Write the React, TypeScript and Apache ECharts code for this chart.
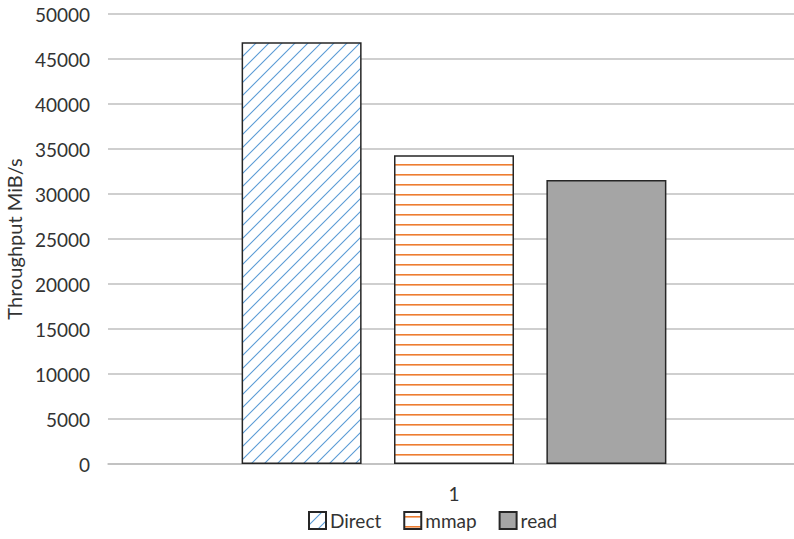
import React, { useEffect, useRef } from "react";
import * as echarts from "echarts";

const categories = ["1"];
const seriesNames = ["Direct", "mmap", "read"];
const directValues = [46850];
const mmapValues = [34300];
const readValues = [31550];
const yTicks = { min: 0, max: 50000, interval: 5000 };

function diagPattern() {
  const s = 13;
  const c = document.createElement("canvas");
  c.width = s;
  c.height = s;
  const g = c.getContext("2d")!;
  g.fillStyle = "#ffffff";
  g.fillRect(0, 0, s, s);
  g.strokeStyle = "#5b9bd5";
  g.lineWidth = 1.1;
  g.beginPath();
  g.moveTo(-2, s + 2);
  g.lineTo(s + 2, -2);
  g.moveTo(-2, 2);
  g.lineTo(2, -2);
  g.moveTo(s - 2, s + 2);
  g.lineTo(s + 2, s - 2);
  g.stroke();
  return { image: c, repeat: "repeat", imageWidth: s, imageHeight: s } as any;
}

function horizPattern() {
  const s = 10;
  const c = document.createElement("canvas");
  c.width = s;
  c.height = s;
  const g = c.getContext("2d")!;
  g.fillStyle = "#ffffff";
  g.fillRect(0, 0, s, s);
  g.fillStyle = "#ed7d31";
  g.fillRect(0, 4, s, 1.6);
  return { image: c, repeat: "repeat", imageWidth: s, imageHeight: s } as any;
}

export default function App() {
  const ref = useRef<HTMLDivElement>(null);
  useEffect(() => {
    if (!ref.current) return;
    const chart = echarts.init(ref.current, null, { renderer: "svg" });
    const font = "Lato, 'Noto Sans', sans-serif";
    const txt = "#333333";
    const border = { borderColor: "#262626", borderWidth: 1.5 };
    chart.setOption({
      animation: false,
      textStyle: { fontFamily: font },
      grid: { left: 108, right: -6, top: 14, bottom: 75, containLabel: false, outerBoundsMode: "none" },
      legend: {
        bottom: 4,
        left: 303,
        itemWidth: 17,
        itemHeight: 17,
        itemGap: 22,
        icon: "rect",
        textStyle: { fontSize: 19, color: txt, fontFamily: font, padding: [0, 0, 0, -1] },
        data: seriesNames,
      },
      xAxis: {
        type: "category",
        data: categories,
        axisLine: { show: true, lineStyle: { color: "#bfbfbf", width: 1.5 } },
        axisTick: { show: false },
        axisLabel: { fontSize: 19, color: txt, margin: 20, fontFamily: font },
      },
      yAxis: {
        type: "value",
        min: yTicks.min,
        max: yTicks.max,
        interval: yTicks.interval,
        name: "Throughput MiB/s",
        nameLocation: "middle",
        nameGap: 83,
        nameTextStyle: { fontSize: 20, color: txt, fontFamily: font },
        axisLine: { show: false },
        axisTick: { show: false },
        axisLabel: {
          fontSize: 19,
          color: txt,
          margin: 18,
          fontFamily: font,
          formatter: (v: number) => String(v),
        },
        splitLine: { lineStyle: { color: "#bfbfbf", width: 1.5 } },
      },
      series: [
        {
          name: seriesNames[0],
          type: "bar",
          data: directValues,
          barWidth: 120,
          barGap: "27%",
          itemStyle: { color: diagPattern(), ...border },
        },
        {
          name: seriesNames[1],
          type: "bar",
          data: mmapValues,
          barWidth: 120,
          barGap: "27%",
          itemStyle: { color: horizPattern(), ...border },
        },
        {
          name: seriesNames[2],
          type: "bar",
          data: readValues,
          barWidth: 120,
          barGap: "27%",
          itemStyle: { color: "#a5a5a5", ...border },
        },
      ],
    });
    return () => chart.dispose();
  }, []);
  return (
    <div
      ref={ref}
      style={{ position: "fixed", left: 0, top: 0, width: 794, height: 539, background: "#fff" }}
    />
  );
}
